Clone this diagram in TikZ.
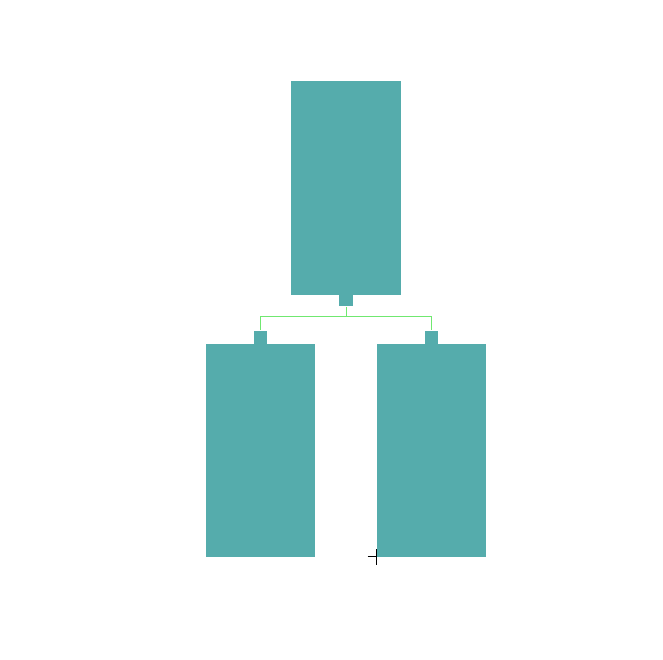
\documentclass[tikz,border=0pt]{standalone}
\usepackage{tikz}
\usetikzlibrary{positioning}
\definecolor{boxteal}{HTML}{55ACAC}
\definecolor{linkgreen}{HTML}{70E870}
\tikzset{
  block/.style={rectangle, fill=boxteal, inner sep=0pt, minimum width=#1},
  tab/.style={rectangle, fill=boxteal, inner sep=0pt},
  link/.style={draw=linkgreen, line width=0.8pt}
}

\begin{document}
\begin{tikzpicture}[x=1pt, y=-1pt]
		\useasboundingbox (0,0) rectangle (663,660);
		% Draw blocks
		\node[block=110pt, minimum height=214pt] (top) at (346,188) {};
		\node[block=109pt, minimum height=213pt] (left) at (260.5,450.5) {};
		\node[block=109pt, minimum height=213pt] (right) at (431.5,450.5) {};
		% Draw tabs
		\node[tab, minimum width=14pt, minimum height=11pt, below=0pt of top] (toptab) {};
		\node[tab, minimum width=13pt, minimum height=13pt, above=0pt of left] (lefttab) {};
		\node[tab, minimum width=13pt, minimum height=13pt, above=0pt of right] (righttab) {};
		% Draw links
		\coordinate (mid) at (346,316);
		\coordinate (lj) at (260.5,316);
		\coordinate (rj) at (431.5,316);
		\draw[link] (toptab.south) -- (mid);
		\draw[link] (lj) -- (rj);
		\draw[link] (lj) -- (lefttab.north);
		\draw[link] (rj) -- (righttab.north);
		% Cursor mark
		\coordinate (cur) at (376.5,556.5);
		\draw[black, line width=0.8pt] ([xshift=-9pt]cur) -- (cur);
		\draw[black, line width=0.8pt] ([yshift=-8pt]cur) -- ([yshift=8pt]cur);
	\end{tikzpicture}
\end{document}
